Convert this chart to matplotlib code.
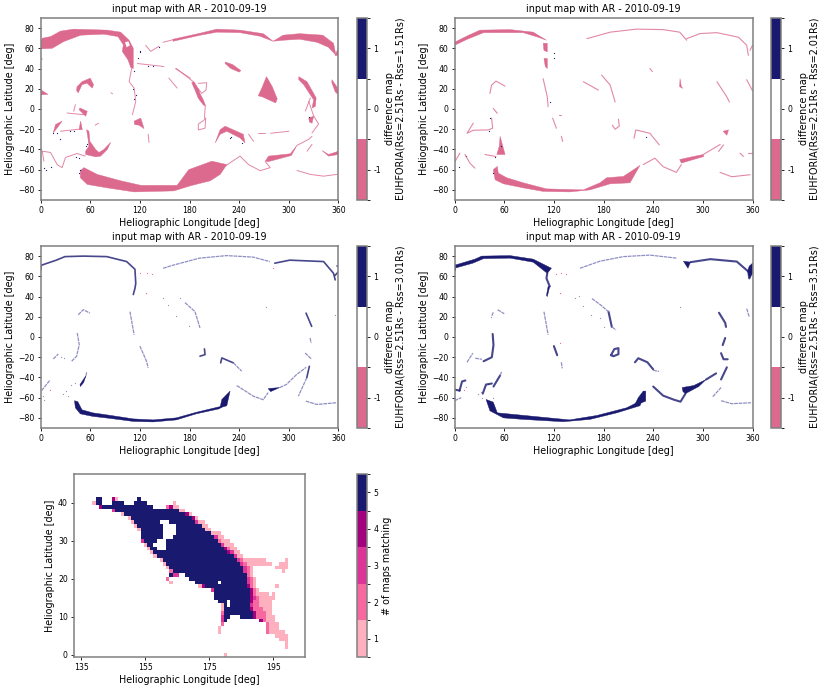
import numpy as np
import matplotlib
matplotlib.use('Agg')
import matplotlib.pyplot as plt
from matplotlib.colors import ListedColormap, BoundaryNorm

PINK = '#dc6a8f'
NAVY = '#191970'
PALE = '#eeb4c8'
LAV = '#8f8fc4'
GREY = '#808080'

title = 'input map with AR - 2010-09-19'
rss = ['1.51', '2.01', '3.01', '3.51']
lon_ticks = [0, 60, 120, 180, 240, 300, 360]
lat_ticks = [-80, -60, -40, -20, 0, 20, 40, 60, 80]

# panel 1 : Rss=1.51
p1_fill = [
    [(0, 66), (2, 70), (12, 71.6), (24, 77), (40, 79), (80.6, 78), (96.7, 76), (107, 68), (112, 60), (112, 40), (109, 41),
     (105.6, 48.6), (98.7, 57), (100, 63.4), (93.5, 71.6), (76.6, 74), (48.4, 73), (28, 66.7), (14, 60), (2, 59.5), (0, 60)],
    [(160, 67), (193, 73), (213, 76), (241, 75.5), (265, 72), (281, 67), (269, 74.5), (241, 78), (213, 79), (193, 75), (160, 69)],
    [(281, 67), (293, 73), (313, 74.5), (341, 73), (354, 65), (357, 53), (348, 61), (334, 66), (313, 69), (293, 68)],
    [(356, 53), (360, 61), (360, 53)],
    [(223, 46.5), (232, 44), (242, 38), (240, 36.5), (230, 40), (223, 45)],
    [(273, 32), (280, 22), (286, 10), (284, 6), (268, 12), (263, 13), (268, 22)],
    [(312, 32), (322, 27), (333, 11), (332, 2.6), (328, 1), (330, 9), (318, 24), (312, 29)],
    [(352, 29), (358, 22), (360, 14), (356, 17), (352, 26)],
    [(0, 19), (9, 14.5), (0, 14)],
    [(44, 22), (50, 27), (60, 30.5), (64, 24), (62.5, 20.7), (56, 25.6), (50, 24), (45.5, 16), (43.5, 18)],
    [(48, -61), (52.4, -58), (68.5, -64.7), (96.7, -71), (121, -75.5), (165, -75.5), (179, -60), (207, -51.6), (225, -55),
     (217, -64.7), (205, -71), (180.8, -76), (161, -81), (113, -82), (80.6, -78), (56.4, -74.6), (48, -68)],
    [(55.6, -20.4), (58.4, -22), (59.6, -32), (66.5, -40), (70.5, -43), (76.6, -40), (84.6, -33), (80.6, -40),
     (72.5, -46.6), (66.5, -47.3), (54.4, -45), (54.4, -41.7), (58.4, -36.8), (57.2, -28.6)],
    [(47.6, 1), (56.4, -2.3), (54.4, -7.2), (50.4, -3.9), (46.4, -0.6)],
    [(48.4, -12), (46.4, -20.4), (50.4, -20.4)],
    [(15.3, -23.6), (18, -15.4), (26, -12), (20, -18.7)],
    [(113, -12), (121, -9), (123, -14), (125, -19.4), (119, -16), (113.6, -15.4)],
    [(185.4, 27), (190.6, 20), (192.6, 15.4), (196.7, 8.9), (199.5, 3), (196.7, 4), (190.6, 10.5), (186.6, 18.7), (182.6, 26)],
    [(211, -33.5), (217, -20.4), (223, -17), (245, -25), (247, -33.5), (241, -28.6), (225, -22), (217, -25)],
    [(271.5, -51.6), (275.5, -46.6), (301.7, -44.3), (309.8, -36), (303, -46), (275.5, -52)],
    [(340, -41), (348, -45), (360, -41.7), (360, -45), (348, -46.6)],
    [(324, -9), (330, -7), (328, -14), (325, -13)],
]
p1_gaps = [[(102, 66), (106, 67), (108, 63), (104, 61)]]
p1_line = [
    [(148, 66), (160, 68.5)],
    [(199.5, -9), (198.7, -19), (190.6, -20.7), (190.6, -14.8), (196.7, -11.5), (199.5, -9)],
    [(190.6, 25.3), (200.7, 26), (199.9, 18.7), (194.7, 15.4), (190.6, 20)],
    [(199, 3), (198, -9)],
    [(164, 40), (184.6, 27)],
    [(155, 30.5), (165, 20.7)],
    [(163, 40), (181, 30.5)],
    [(130, -25), (131, -33)],
    [(110, 40), (107, 27), (113, 20.7), (115, 7.6), (111, -5.6)],
    [(127, 63), (133, 57), (143, 62)],
    [(117, 45), (149, 42)],
    [(223, -56.5), (241, -46.6), (251.3, -55), (265.4, -61), (277.5, -58), (271.5, -52)],
    [(309.8, -60.8), (325.9, -64.7), (342, -66.4), (358, -64.7)],
    [(309.8, -36), (323.9, -30), (328, -27)],
    [(328, -35), (322, -41.7)],
    [(324, 7.6), (330, -7), (336, -14.8), (328, -23.7)],
    [(326, 11), (320, -2)],
    [(2, -41.7), (12, -43), (20, -55), (26, -58), (30, -48), (44, -44), (54, -46.6)],
    [(2, -41.7), (4, -51.6)],
    [(40, -2.3), (42, 4.3)],
    [(32, -4), (52, -5.6)],
    [(24, -22), (46, -20)],
    [(66, -16), (70, -14)],
    [(251.3, -25), (257.4, -32)],
    [(263, -23.7), (271, -23.7)],
    [(278, -24), (300, -22)],
    [(0, 51), (2, 49)],
    [(85, 16), (87, 15)],
]
p1_dots = [(120, 56), (120, 57), (118, 50), (113, 38), (115, 14), (113, 10), (112, 20), (15, -24), (20, -24), (24, -30),
           (40, -22), (35, -22), (4, -58), (6, -60), (12, -57), (43, -47), (47, -48), (48, -60), (46, -63), (55, -37),
           (56, -35), (229, -29), (230, -28), (243, -34), (324, -8), (130, 43), (136, 43), (143, 61)]

# panel 2 : Rss=2.01
p2_fill = [
    [(0, 66), (14.5, 72), (30.6, 78), (67, 78.5), (95, 76), (111, 68), (101, 71), (83, 75.5), (35, 75.5), (14.5, 68.7), (0, 63)],
    [(107, 65), (112, 65), (112, 56.5), (108, 58)],
    [(108, 50), (112, 50), (112, 40), (109.6, 42)],
    [(46.7, -60), (51.6, -56.8), (52.8, -63.4), (63, -68), (83, -73), (111, -79), (155.6, -80), (175.7, -73), (183.8, -68),
     (204, -66.7), (224, -55.8), (212, -73), (188, -74), (163.6, -80), (139, -82), (107, -81.5), (83, -78), (59, -74), (49, -70)],
    [(55, -27), (61, -45), (51, -45), (54, -37)],
    [(272, -50), (288.5, -47), (300.6, -45), (301, -47), (274, -53.5)],
    [(272.4, 30), (274, 22), (276, 20.4), (272, 22)],
    [(324.5, -22), (331, -20.7), (329, -26)],
]
p2_line = [
    [(300.6, -45), (317, -37), (321, -35)],
    [(353, 29), (360, 18)],
    [(317, 27), (329, 12), (332, 7)],
    [(160, 69.6), (188, 76), (220, 79), (252, 78.5), (272, 76), (280.5, 68)],
    [(280.5, 69.6), (296.6, 74.6), (317, 75.5), (343, 71), (353, 63), (355, 53)],
    [(357, 58), (360, 63)],
    [(42.7, 15.4), (44.7, 23.6), (50, 27.6), (60.8, 22.7)],
    [(107, 30), (112, 12), (113, 2.3)],
    [(177.7, 33.5), (188, 23.7), (194, 7)],
    [(155.6, 27), (173.7, 18.7)],
    [(118.5, -9), (123, -19)],
    [(129, -27), (130.6, -32)],
    [(198, -10), (199, -17), (194, -20), (190.6, -16)],
    [(216.8, -29), (219, -20.7), (236, -24), (247.4, -35.5)],
    [(46.7, 0.6), (51.6, -4.3)],
    [(44.7, -9), (46, -19), (40.7, -20.7), (22.6, -21), (15, -24), (22.6, -14)],
    [(0.4, -52), (6.4, -43.7)],
    [(12.5, -45), (18.5, -53.5), (24.6, -58.5)],
    [(36.7, -45), (50, -47)],
    [(228, -55), (242, -48.6), (252, -57), (268, -62.7), (274, -55)],
    [(320.8, -62.7), (335, -67), (357, -65)],
    [(325, -35.5), (319, -42)],
    [(345, -43.7), (349, -47)],
    [(355, -44), (360, -44)],
    [(236, 40), (239, 37)],
    [(126, -6), (129, -6)],
]
p2_dots = [(42.7, -9), (41, -22), (55.6, -37), (48.8, -47.6), (115, 7), (120.5, 55), (120, 50), (231, -28), (5, -57), (14, -46), (47, -63)]

# panel 3 : Rss=3.01
p3_fill = [
    [(41, -63), (45, -64), (50, -72), (63, -75), (84, -77.5), (112, -81), (136, -82), (164, -80), (188, -74.5), (216, -69), (221, -68),
     (216, -71), (188, -76), (164, -82), (136, -84), (112, -83.5), (84, -80.5), (63, -78.5), (48, -76), (42, -70)],
    [(229, -53.5), (225, -68), (216.8, -70), (219, -61.8)],
    [(275, -51), (289, -50), (278, -54)],
    [(47.6, -47), (55, -38), (52, -45), (48, -49)],
]
p3_line = [
    [(0, 66), (1, 71), (19, 76), (29.4, 79.5), (51.6, 80), (80, 79.5), (104, 74.6), (114, 67), (115, 53), (114, 48), (112, 42)],
    [(283, 73), (301, 76), (342, 74.6), (354, 63), (356, 56.5)],
    [(358, 70), (360, 70)],
    [(356, 61), (360, 64.7)],
    [(320.8, 23.6), (327.6, 10.5)],
    [(324.8, -29), (321.6, -40.4)],
    [(217.6, -25.6), (219, -20.7), (233, -25.6)],
    [(192.6, -19), (198.7, -17.4), (198, -11.8)],
]
p3_pale = [
    [(148, 68), (160, 71), (192, 78), (225, 80.5), (257, 79), (277, 74.6)],
    [(45.5, 22), (51.6, 27), (59.6, 23.6)],
    [(44.3, 4), (46.7, -7.6), (43.5, -19), (37.5, -24)],
    [(15.3, -21.7), (21.4, -16.8)],
    [(1.2, -53), (11.3, -42.7)],
    [(55, -38), (55.6, -35)],
    [(108, 25), (113, 2.3)],
    [(174.5, 34), (186.6, 25), (192.6, 9)],
    [(120, -9), (128, -24), (130, -30.5)],
    [(233, -25.6), (243, -33.8)],
    [(237, -48), (257, -58.5), (269, -62), (275, -55)],
    [(289, -50), (297, -47), (309.5, -37), (321, -30)],
    [(325.6, -1), (327, -6)],
    [(319.6, -15.8), (327.6, -22)],
    [(321.6, -40.4), (311.5, -58.5)],
    [(320.6, -63.4), (333.7, -66.7), (358, -65)],
]
p3_dots = [(148, 39), (154, 31.5), (168, 38.4), (163.6, 21), (179.7, 10.5), (272, 30), (356, 22), (4, -62), (3, -58),
           (27, -56), (31, -53), (33, -58), (37, -47), (41, -45), (28, -21), (25, -20)]
p3_red = [(120, 63), (128, 63), (135, 62), (127, 44), (11, -52), (281, 68)]

# panel 4 : Rss=3.51
p4_fill = [
    [(0, 71), (24.6, 77), (32.6, 80), (67, 80.5), (95, 77), (117, 68), (112, 63), (95, 74), (67, 78), (35, 77.5), (22, 73), (0, 68)],
    [(38, -61.8), (42.7, -73), (59, -80), (83, -81.5), (131, -83.8), (163.6, -81.5), (196, -75), (224, -68), (228, -60),
     (220, -65), (208, -70), (172, -77.6), (139, -82), (83, -77.5), (51.6, -75), (46.7, -64.4)],
    [(228, -53.5), (231, -53.5), (231, -63.4), (217, -68), (222, -60)],
    [(276.5, 75), (285, 74), (282, 68)],
    [(356, 70), (360, 73), (360, 63), (357, 58), (354, 65)],
    [(275, -50), (289, -48), (304, -42), (295, -49), (279, -56), (276, -54)],
    [(112, 40), (115, 50), (113, 50), (111, 41)],
]
p4_line = [
    [(112, 63), (111, 58), (115, 50)],
    [(0, 66), (0, 71)],
    [(285, 74), (309, 77), (341, 74.6), (355, 64.7), (356, 58)],
    [(6, -53), (9, -44), (13, -43)],
    [(0, -52), (6, -53)],
    [(45, -46), (38, -47), (34, -56)],
    [(47, -49), (55, -38)],
    [(319.5, 24), (327, 14), (328, 10)],
    [(327, -1), (324, -8)],
    [(322, -16), (325, -22), (330, -22)],
    [(329, -30), (322, -42)],
    [(304, -42), (316, -36)],
    [(189, -18), (193, -12), (198, -11), (198, -17), (192, -19), (189, -18)],
    [(218, -25), (222, -21), (233, -25), (240, -32)],
    [(240, -49), (252, -58), (265, -62), (273, -64), (279, -56)],
    [(120, -9), (124, -18)],
    [(186, 25), (190, 10)],
    [(46, 3), (47, -8), (45, -20), (35, -24)],
]
p4_pale = [
    [(151.5, 68), (175.7, 75), (204, 79.5), (236, 81), (268, 78)],
    [(45, 21), (47, 25)],
    [(52, 27), (60, 23)],
    [(108, 25), (113, 2.3)],
    [(166, 38), (176, 32), (186, 25)],
    [(190, 10), (195, 7)],
    [(129, -25), (130, -31)],
    [(15, -25), (22, -16)],
    [(25, -21), (33, -22)],
    [(0, -63), (8, -60)],
    [(55, -38), (57, -34)],
    [(312, -59), (322, -50)],
    [(322, -63), (335, -66), (358, -65)],
    [(353, 28), (356, 20)],
    [(240, -33), (247, -34)],
]
p4_dots = [(127, 44), (145, 39), (150, 41), (155, 31), (165, 22), (176, 19), (180, 10), (272, 30), (44, 20), (28, -56), (32, -54),
           (33, -60), (47, -60), (14, -49), (40, -46)]
p4_red = [(122, 62), (128, 63), (135, 62), (127, 44), (127, -6), (11, -52)]

panels = [
    (p1_fill, p1_line, [], p1_dots, [], PINK, PALE),
    (p2_fill, p2_line, [], p2_dots, [], PINK, PALE),
    (p3_fill, p3_line, p3_pale, p3_dots, p3_red, NAVY, LAV),
    (p4_fill, p4_line, p4_pale, p4_dots, p4_red, NAVY, LAV),
]
# line colour and width per panel
line_cols = [PINK, PINK, NAVY, NAVY]
line_lws = [0.7, 0.8, 1.2, 1.5]

# bottom heatmap, rows of (first lon, last lon, maps matching)
heat_rows = {
    41: [(140, 141, 5), (145, 145, 4), (146, 146, 1), (153, 153, 5)],
    40: [(139, 139, 1), (140, 141, 5), (145, 148, 5), (152, 155, 5), (164, 164, 1)],
    39: [(141, 141, 4), (142, 157, 5), (162, 162, 2), (163, 163, 4), (164, 165, 1)],
    38: [(145, 145, 3), (146, 165, 5), (166, 167, 1)],
    37: [(148, 148, 1), (149, 167, 5), (168, 168, 4), (169, 169, 1)],
    36: [(150, 150, 1), (151, 169, 5), (170, 170, 4), (171, 171, 1)],
    35: [(151, 151, 1), (152, 170, 5), (171, 171, 3), (172, 173, 1)],
    34: [(152, 152, 1), (153, 172, 5), (173, 174, 1)],
    33: [(153, 153, 1), (154, 173, 5), (174, 175, 1)],
    32: [(154, 175, 5), (176, 178, 1)],
    31: [(154, 176, 5), (177, 177, 3), (178, 179, 1)],
    30: [(154, 154, 3), (155, 177, 5), (178, 178, 2), (179, 181, 1)],
    29: [(155, 155, 1), (156, 178, 5), (179, 179, 3), (180, 182, 1)],
    28: [(156, 156, 1), (157, 179, 5), (180, 180, 4), (181, 181, 2), (182, 183, 1)],
    27: [(157, 157, 1), (158, 180, 5), (181, 181, 4), (182, 182, 3), (183, 184, 1)],
    26: [(158, 158, 1), (159, 182, 5), (183, 183, 3), (184, 185, 1)],
    25: [(160, 160, 1), (161, 183, 5), (184, 184, 3), (185, 185, 2), (186, 192, 1), (199, 199, 1)],
    24: [(161, 161, 1), (162, 184, 5), (185, 185, 3), (186, 186, 2), (187, 194, 1), (197, 199, 1)],
    23: [(162, 162, 1), (163, 185, 5), (186, 186, 3), (187, 187, 2), (188, 188, 1), (196, 199, 1)],
    22: [(163, 163, 2), (164, 185, 5), (186, 186, 3), (187, 187, 2), (188, 188, 1), (198, 198, 1)],
    21: [(163, 163, 5), (164, 165, 3), (168, 186, 5), (187, 187, 2), (188, 188, 1)],
    20: [(162, 162, 2), (169, 186, 5), (187, 187, 3), (188, 188, 2), (189, 189, 1)],
    19: [(163, 163, 1), (171, 186, 5), (187, 187, 3), (188, 188, 2), (189, 189, 1)],
    18: [(172, 172, 1), (173, 173, 4), (174, 186, 5), (187, 187, 4), (188, 188, 2), (189, 189, 1), (196, 196, 1)],
    17: [(176, 176, 3), (177, 187, 5), (188, 188, 4), (189, 189, 2), (190, 190, 1)],
    16: [(177, 187, 5), (188, 188, 4), (189, 189, 2), (190, 193, 1), (195, 195, 1)],
    15: [(177, 187, 5), (188, 188, 4), (189, 189, 3), (190, 190, 2), (191, 195, 1)],
    14: [(178, 187, 5), (188, 188, 4), (189, 190, 2), (191, 194, 1)],
    13: [(179, 179, 1), (180, 187, 5), (188, 188, 3), (189, 190, 2), (191, 194, 1)],
    12: [(179, 179, 1), (180, 187, 5), (188, 188, 4), (189, 191, 2), (192, 194, 1)],
    11: [(179, 179, 2), (180, 188, 5), (189, 189, 4), (190, 192, 2), (193, 194, 1)],
    10: [(179, 179, 3), (180, 181, 5), (185, 188, 5), (189, 189, 4), (190, 192, 2), (193, 195, 1)],
    9: [(179, 179, 3), (180, 180, 5), (191, 191, 4), (192, 192, 2), (193, 195, 1)],
    8: [(179, 179, 2), (193, 193, 2), (194, 196, 1)],
    7: [(178, 178, 1), (193, 193, 2), (194, 196, 1)],
    6: [(178, 178, 1), (193, 193, 2), (194, 198, 1)],
    5: [(196, 199, 1)],
    4: [(197, 199, 1)],
    3: [(199, 199, 1)],
    2: [(199, 199, 1)],
    0: [(180, 180, 1)],
}
# white gaps inside the navy area: lat, first lon, last lon
heat_holes = [(35, 160, 162), (34, 161, 164), (33, 161, 164), (32, 161, 164), (31, 161, 163), (30, 159, 161),
              (29, 158, 161), (28, 159, 161), (19, 178, 178), (14, 181, 181), (13, 181, 181)]
heat_cols = ['#ffb0bf', '#f768a1', '#dd3497', '#a3007f', NAVY]

W, H = 823, 688
TICK_FS = 5.6
LAB_FS = 6.9
plt.rcParams['font.size'] = TICK_FS
plt.rcParams['axes.edgecolor'] = GREY
plt.rcParams['axes.linewidth'] = 1.1
plt.rcParams['xtick.major.size'] = 2.5
plt.rcParams['ytick.major.size'] = 2.5
plt.rcParams['xtick.major.width'] = 0.6
plt.rcParams['ytick.major.width'] = 0.6
plt.rcParams['xtick.major.pad'] = 2
plt.rcParams['ytick.major.pad'] = 2
plt.rcParams['axes.labelpad'] = 2


def box(x0, y0, x1, y1):
    return [x0 / W, 1 - y1 / H, (x1 - x0) / W, (y1 - y0) / H]


def draw_map(ax, fill, line, pale, dots, red, col, pcol, lcol, lw):
    for s in line:
        a = np.array(s)
        ax.plot(a[:, 0], a[:, 1], color=lcol, lw=lw, alpha=0.8, solid_capstyle='round')
    for s in pale:
        a = np.array(s)
        ax.plot(a[:, 0], a[:, 1], color=pcol, lw=0.9, ls=(0, (3, 0.6)))
    for s in fill:
        a = np.array(s)
        ax.fill(a[:, 0], a[:, 1], color=col, lw=0.3)
    if dots:
        d = np.array(dots)
        ax.scatter(d[:, 0], d[:, 1], s=0.8, color=NAVY if lcol == PINK else LAV, lw=0)
    if red:
        d = np.array(red)
        ax.scatter(d[:, 0], d[:, 1], s=0.8, color='#f06a90', lw=0)


fig = plt.figure(figsize=(W / 100, H / 100), dpi=100)
xpos = [(40.6, 338.5, 356.5, 367), (454.6, 752.5, 770.5, 781)]
ypos = [(18, 200), (246, 428)]
cmap = ListedColormap([PINK, 'white', NAVY])
norm = BoundaryNorm([-1.5, -0.5, 0.5, 1.5], 3)

for i, (fill, line, pale, dots, red, col, pcol) in enumerate(panels):
    x0, x1, c0, c1 = xpos[i % 2]
    y0, y1 = ypos[i // 2]
    ax = fig.add_axes(box(x0, y0, x1, y1))
    draw_map(ax, fill, line, pale, dots, red, col, pcol, line_cols[i], line_lws[i])
    if i == 0:
        for s in p1_gaps:
            a = np.array(s)
            ax.fill(a[:, 0], a[:, 1], color='white', lw=0)
    ax.set_xlim(0, 360)
    ax.set_ylim(-90, 90)
    ax.set_xticks(lon_ticks)
    ax.set_yticks(lat_ticks)
    ax.set_xlabel('Heliographic Longitude [deg]', fontsize=LAB_FS)
    ax.set_ylabel('Heliographic Latitude [deg]', fontsize=LAB_FS)
    ax.set_title(title, fontsize=LAB_FS, pad=4)
    cax = fig.add_axes(box(c0, y0, c1, y1))
    cb = fig.colorbar(plt.cm.ScalarMappable(norm=norm, cmap=cmap), cax=cax, ticks=[-1, 0, 1])
    cb.ax.set_yticklabels(['-1', '0', '1'])
    cb.outline.set_edgecolor(GREY)
    cb.set_label('difference map\nEUHFORIA(Rss=2.51Rs - Rss=%sRs)' % rss[i], fontsize=LAB_FS, labelpad=3, linespacing=1.05)

# bottom heatmap
lons = np.arange(130, 210)
lats = np.arange(-2, 50)
grid = np.full((len(lats), len(lons)), np.nan)
for lat, runs in heat_rows.items():
    for a, b, v in runs:
        grid[lat - lats[0], a - lons[0]:b - lons[0] + 1] = v
for lat, a, b in heat_holes:
    grid[lat - lats[0], a - lons[0]:b - lons[0] + 1] = np.nan

ax = fig.add_axes(box(74, 474, 305, 657))
hcmap = ListedColormap(heat_cols)
hnorm = BoundaryNorm(np.arange(0.5, 6), 5)
ax.imshow(np.ma.masked_invalid(grid), cmap=hcmap, norm=hnorm, origin='lower', aspect='auto', interpolation='nearest',
          extent=[lons[0] - 0.5, lons[-1] + 0.5, lats[0] - 0.5, lats[-1] + 0.5])
ax.set_xlim(132.8, 205)
ax.set_ylim(-0.6, 47.6)
ax.set_xticks([135, 155, 175, 195])
ax.set_yticks([0, 10, 20, 30, 40])
ax.set_xlabel('Heliographic Longitude [deg]', fontsize=LAB_FS)
ax.set_ylabel('Heliographic Latitude [deg]', fontsize=LAB_FS)
cax = fig.add_axes(box(356.5, 474, 367, 657))
cb = fig.colorbar(plt.cm.ScalarMappable(norm=hnorm, cmap=hcmap), cax=cax, ticks=[1, 2, 3, 4, 5])
cb.outline.set_edgecolor(GREY)
cb.set_label('# of maps matching', fontsize=LAB_FS, labelpad=3)

fig.savefig('out.png', dpi=100)
